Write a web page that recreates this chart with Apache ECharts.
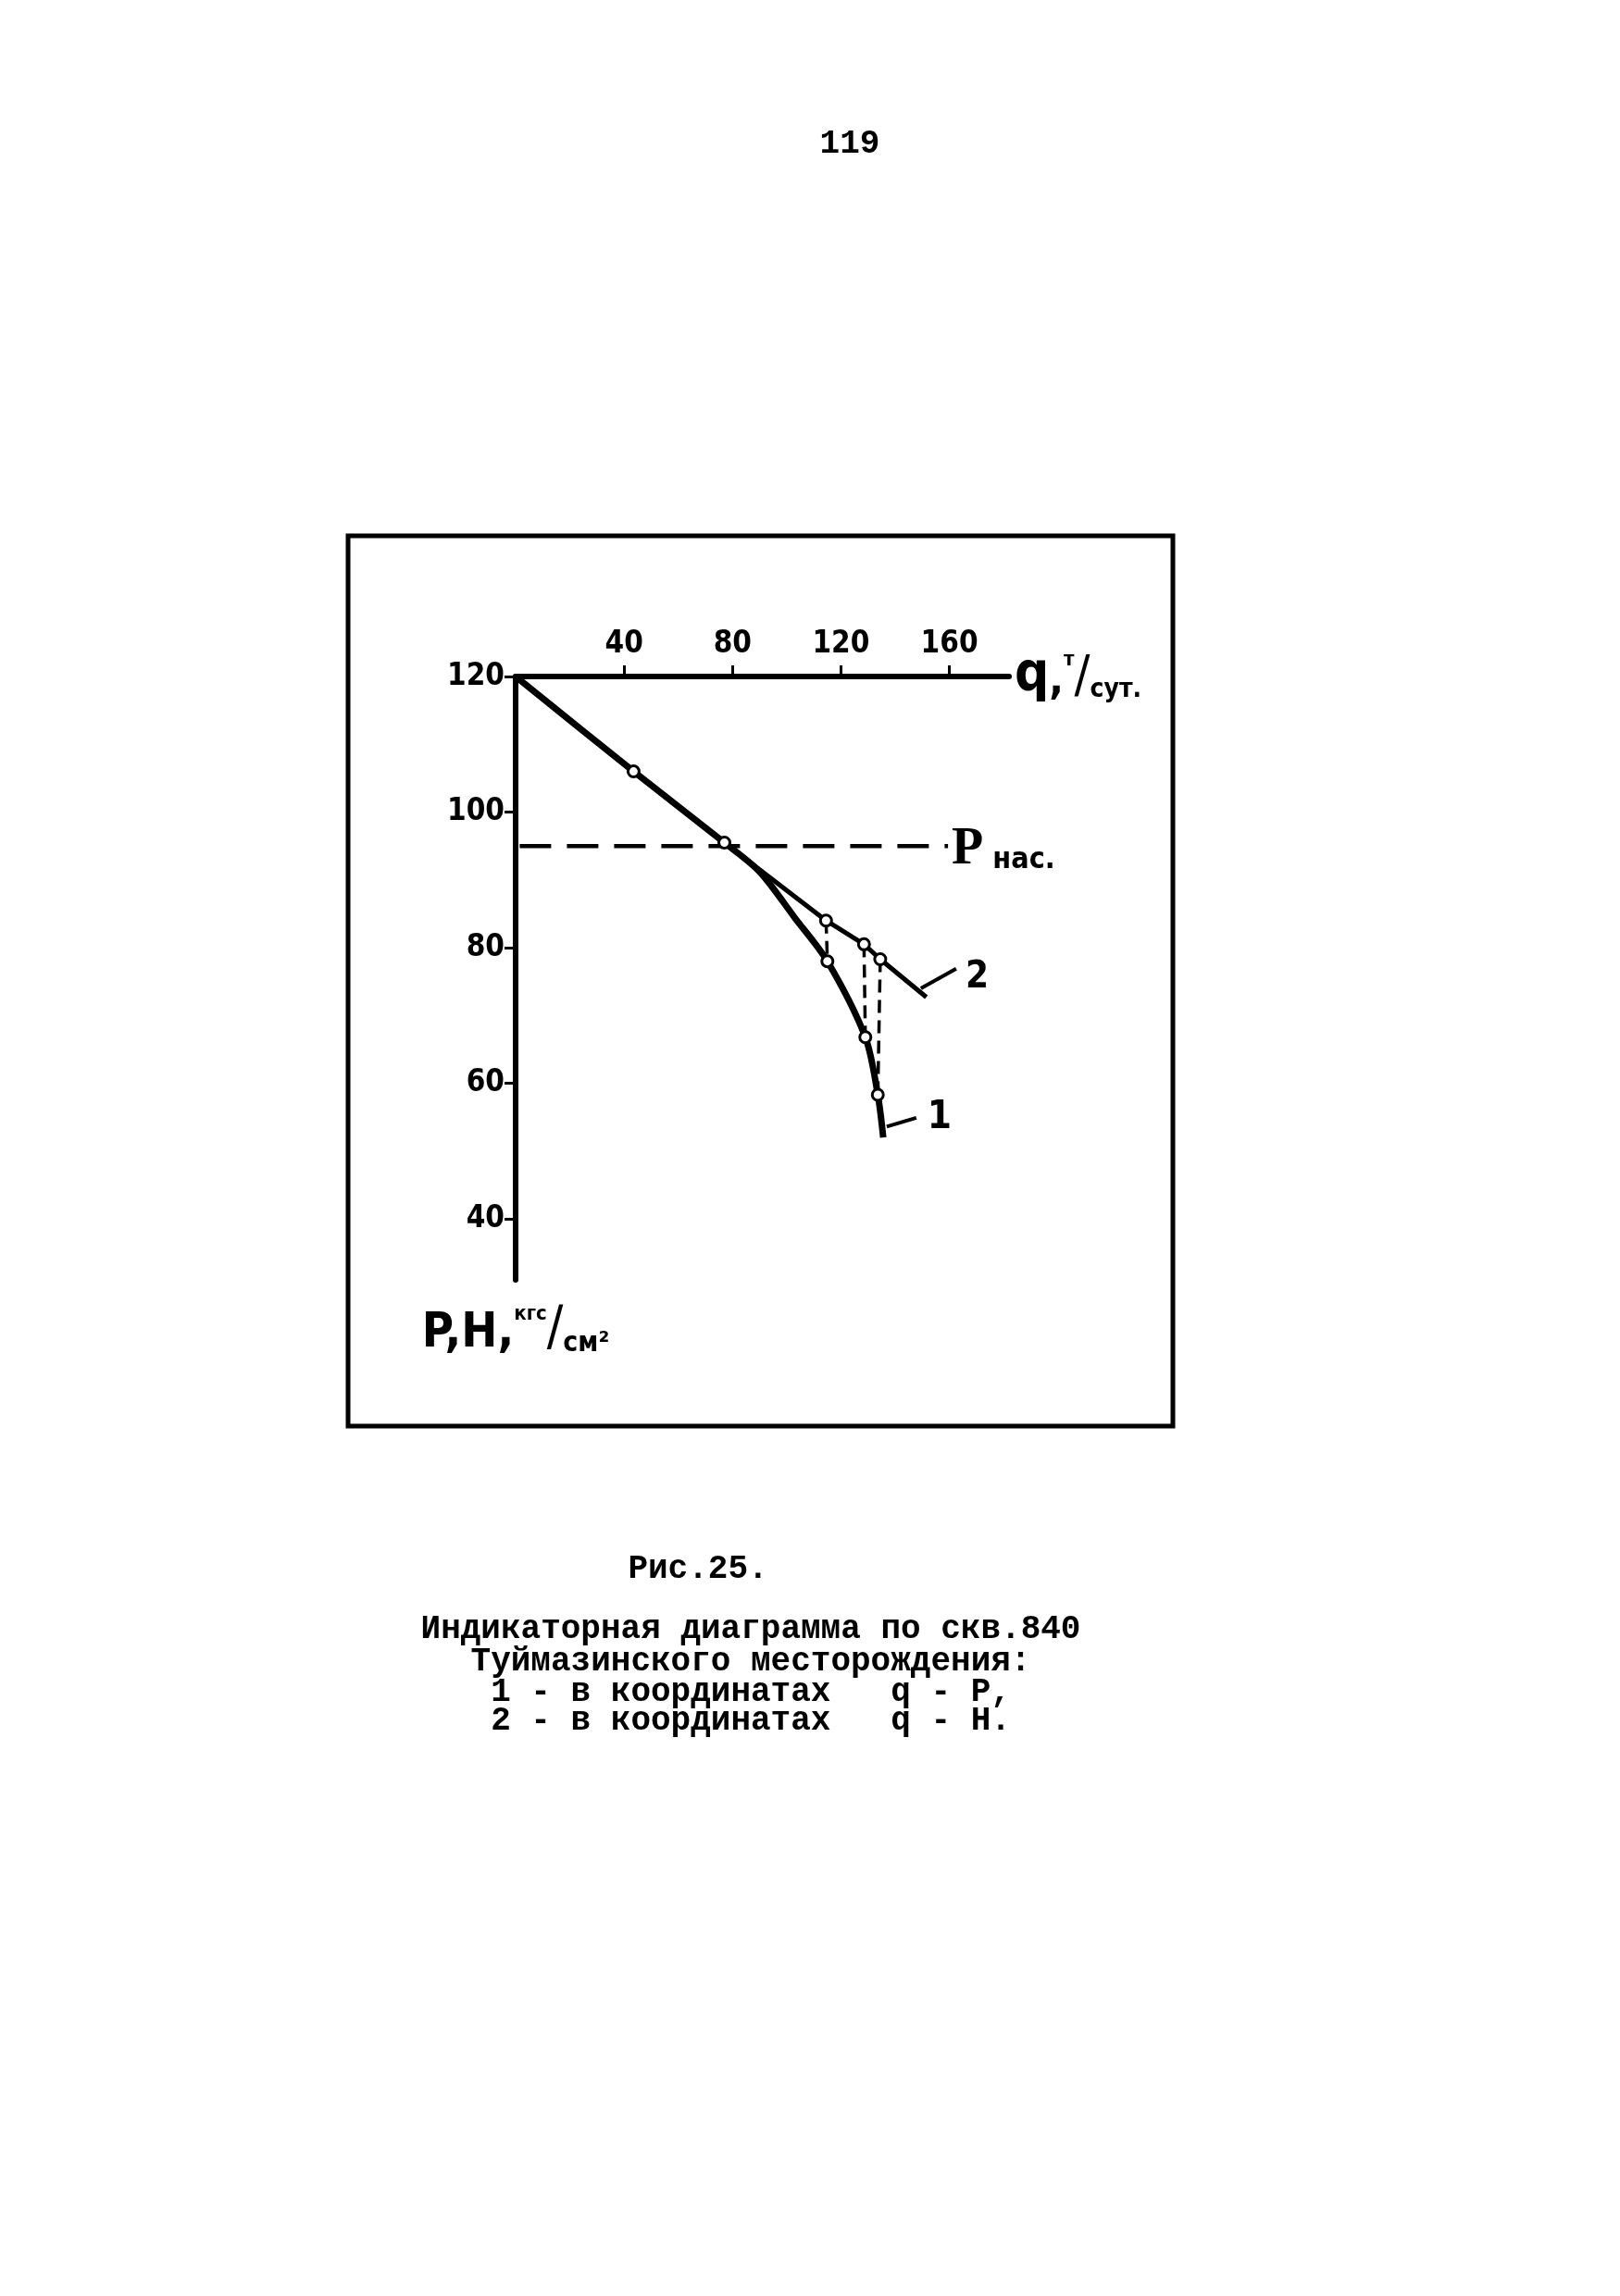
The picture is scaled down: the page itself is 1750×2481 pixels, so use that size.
<!DOCTYPE html>
<html>
<head>
<meta charset="utf-8">
<script src="https://cdn.jsdelivr.net/npm/echarts@6/dist/echarts.min.js"></script>
<style>
html,body{margin:0;padding:0;background:#fff;}
#c{width:1750px;height:2481px;}
</style>
</head>
<body>
<div id="c"></div>
<script>
// ---- data ----
const qTicks = [40, 80, 120, 160];          // q, т/сут. (top axis)
const pTicks = [40, 60, 80, 100, 120];      // P,H, кгс/см² (left axis)
const qRange = [0, 182];
const pRange = [31, 120];

// curve 1 : q - P (bends down below saturation pressure)
const curve1 = [[0,120],[43.5,106],[77,95.5],[90,91.2],[103,84.4],[115,78],[129,66.8],[133.6,58.3],[135.6,52]];
// curve 2 : q - H (straight)
const curve2 = [[0,120],[43.5,106],[77,95.5],[114.5,84],[128.5,80.5],[134.5,78.3],[151.5,72.7]];
// measured points (open circles)
const points1 = [[43.5,106],[77,95.5],[115,78],[129,66.8],[133.6,58.3]];
const points2 = [[114.5,84],[128.5,80.5],[134.5,78.3]];
// vertical dashed links between the curves
const links = [
  [[114.5,84],[115,78]],
  [[128.5,80.5],[129,66.8]],
  [[134.5,78.3],[133.6,58.3]]
];
// saturation pressure line
const pSat = 95;
const pSatSpan = [1.5, 159.5];
// curve number leaders
const leader1 = [[136.9,53.6],[147.8,54.9]];
const leader2 = [[149.5,74.0],[162.5,76.9]];

const pageNumber = '119';
const figTitle = 'Рис.25.';
const captionLines = [
  'Индикаторная диаграмма по скв.840',
  'Туймазинского месторождения:',
  '1 - в координатах   q - P,',
  '2 - в координатах   q - H.'
];

// ---- chart ----
const NARROW = '"Liberation Sans Narrow","DejaVu Sans Condensed","Liberation Sans",sans-serif';
const MONO = '"Liberation Mono","DejaVu Sans Mono",monospace';
const chart = echarts.init(document.getElementById('c'), null, {renderer:'canvas'});

const axisLabelStyle = {color:'#000', fontFamily:NARROW, fontWeight:'bold', fontSize:33};

const series = [];
series.push({
  type:'line', data:curve2, showSymbol:false, smooth:false, z:3,
  lineStyle:{color:'#000', width:5}, silent:true
});
series.push({
  type:'line', data:curve1, showSymbol:false, smooth:0.3, z:4,
  lineStyle:{color:'#000', width:7}, silent:true
});
links.forEach(l => series.push({
  type:'line', data:l, showSymbol:false, z:2,
  lineStyle:{color:'#000', width:3.5, type:[14,8]}, silent:true
}));
series.push({
  type:'line', data:[[pSatSpan[0],pSat],[pSatSpan[1],pSat]], showSymbol:false, z:2,
  lineStyle:{color:'#000', width:4.5, type:[34,17]}, silent:true,
  endLabel:{show:true, distance:4, offset:[0,4],
    formatter:'{p|P}{s| нас.}',
    rich:{
      p:{fontFamily:'"Liberation Serif","DejaVu Serif",serif', fontWeight:'bold', fontSize:56, color:'#000', verticalAlign:'bottom'},
      s:{fontFamily:NARROW, fontWeight:'bold', fontSize:32, color:'#000', verticalAlign:'bottom'}
    }}
});
series.push({
  type:'line', data:leader2, showSymbol:false, z:2,
  lineStyle:{color:'#000', width:4}, silent:true,
  endLabel:{show:true, formatter:'2', distance:10, offset:[0,10],
    fontFamily:NARROW, fontWeight:'bold', fontSize:40, color:'#000'}
});
series.push({
  type:'line', data:leader1, showSymbol:false, z:2,
  lineStyle:{color:'#000', width:4}, silent:true,
  endLabel:{show:true, formatter:'1', distance:12, offset:[0,0],
    fontFamily:NARROW, fontWeight:'bold', fontSize:42, color:'#000'}
});
series.push({
  type:'scatter', data:points1.concat(points2), symbol:'circle', symbolSize:12, z:10,
  itemStyle:{color:'#fff', borderColor:'#000', borderWidth:3, opacity:1}, silent:true
});

const option = {
  backgroundColor:'#fff',
  animation:false,
  grid:{left:557, top:731, width:533, height:652, containLabel:false, outerBoundsMode:'none'},
  xAxis:{
    type:'value', position:'top', min:qRange[0], max:qRange[1],
    axisLine:{show:true, onZero:false, lineStyle:{color:'#000', width:6}},
    axisTick:{show:true, inside:false, length:12, customValues:qTicks, lineStyle:{color:'#000', width:3}},
    axisLabel:Object.assign({customValues:qTicks, margin:18}, axisLabelStyle),
    splitLine:{show:false},
    name:'{q|q}{c|,}{t|т}{s|/}{u|сут.}',
    nameLocation:'end', nameGap:6,
    nameTextStyle:{
      rich:{
        q:{fontFamily:NARROW, fontWeight:'bold', fontSize:58, color:'#000', verticalAlign:'bottom'},
        c:{fontFamily:NARROW, fontWeight:'bold', fontSize:46, color:'#000', verticalAlign:'bottom'},
        t:{fontFamily:NARROW, fontWeight:'bold', fontSize:22, color:'#000', verticalAlign:'top'},
        s:{fontFamily:NARROW, fontWeight:'normal', fontSize:56, color:'#000', verticalAlign:'bottom'},
        u:{fontFamily:NARROW, fontWeight:'bold', fontSize:28, color:'#000', verticalAlign:'bottom'}
      }
    }
  },
  yAxis:{
    type:'value', min:pRange[0], max:pRange[1],
    axisLine:{show:true, onZero:false, lineStyle:{color:'#000', width:6}},
    axisTick:{show:true, inside:false, length:12, customValues:pTicks, lineStyle:{color:'#000', width:3}},
    axisLabel:Object.assign({customValues:pTicks, margin:12}, axisLabelStyle),
    splitLine:{show:false},
    name:'{a|P,H,}{b|кгс}{c|/}{d|см²}',
    nameLocation:'start', nameGap:26,
    nameTextStyle:{
      rich:{
        a:{fontFamily:NARROW, fontWeight:'bold', fontSize:52, color:'#000', verticalAlign:'bottom'},
        b:{fontFamily:NARROW, fontWeight:'bold', fontSize:22, color:'#000', verticalAlign:'top'},
        c:{fontFamily:NARROW, fontWeight:'normal', fontSize:58, color:'#000', verticalAlign:'bottom'},
        d:{fontFamily:NARROW, fontWeight:'bold', fontSize:30, color:'#000', verticalAlign:'bottom'}
      }
    }
  },
  series:series,
  graphic:[
    {type:'rect', shape:{x:376, y:579, width:891, height:962}, style:{fill:null, stroke:'#000', lineWidth:5}, z:-1, silent:true},
    {type:'text', x:918, y:156, style:{text:pageNumber, font:'bold 36px '+MONO, fill:'#000', align:'center', verticalAlign:'middle'}},
    {type:'text', x:754, y:1696, style:{text:figTitle, font:'bold 36px '+MONO, fill:'#000', align:'center', verticalAlign:'middle'}}
  ].concat(captionLines.map((t,i)=>({
    type:'text', x:811, y:[1761,1796,1829,1860][i],
    style:{text:t, font:'bold 36px '+MONO, fill:'#000', align:'center', verticalAlign:'middle'}
  })))
};
chart.setOption(option);
</script>
</body>
</html>
